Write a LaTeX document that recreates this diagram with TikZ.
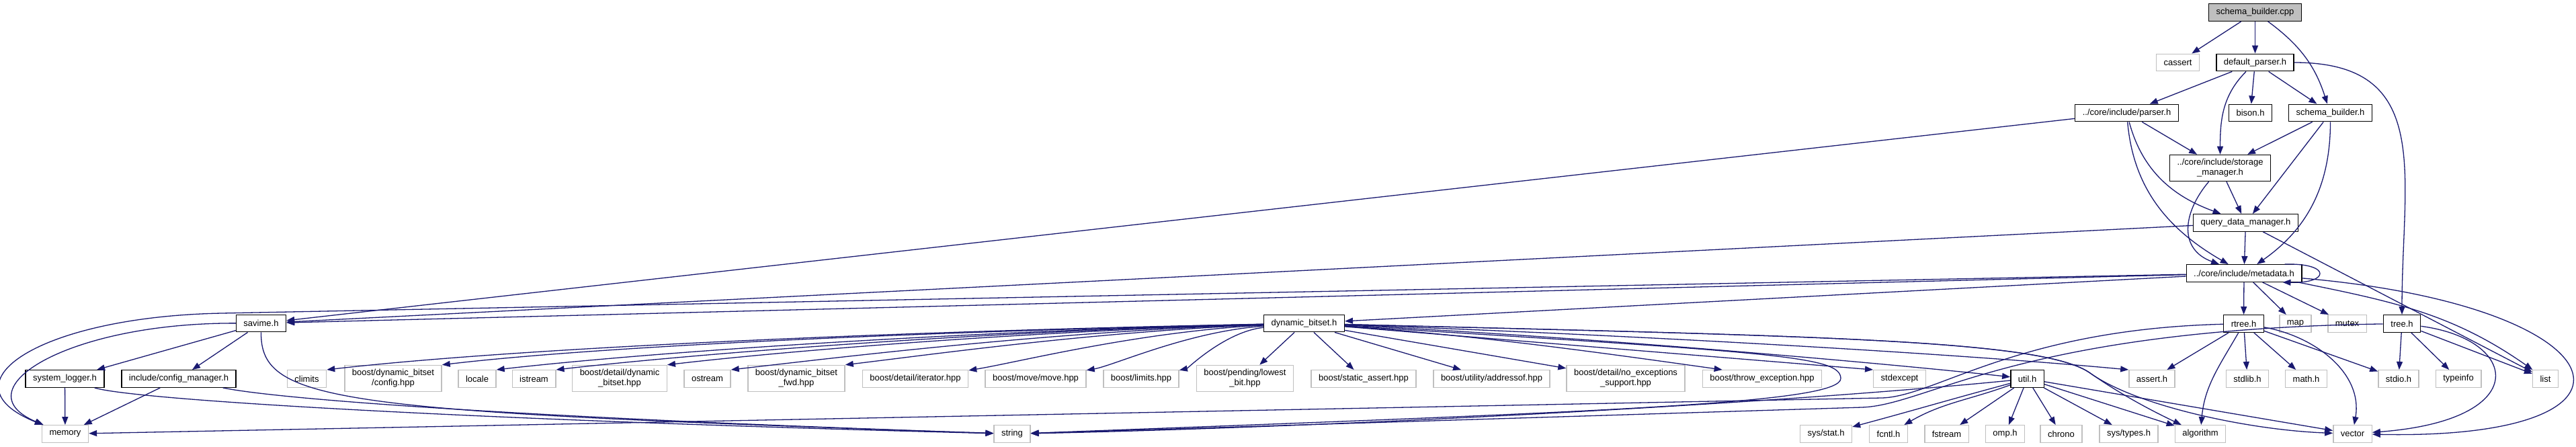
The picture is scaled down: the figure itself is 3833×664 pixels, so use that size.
\documentclass[tikz,border=0pt]{standalone}
\usepackage{fontspec}
\setmainfont{Liberation Sans}
\usetikzlibrary{arrows.meta}
\definecolor{edgeblue}{RGB}{25,25,112}
\definecolor{sysgray}{RGB}{191,191,191}
\begin{document}
\begin{tikzpicture}[x=1pt,y=1pt,
    hfile/.style={draw=black,line width=1.4pt,inner xsep=11pt,inner ysep=6pt,
      minimum height=25.5pt,align=center,font=\fontsize{13}{15}\selectfont},
    sysfile/.style={hfile,draw=sysgray},
    rootfile/.style={hfile,fill=sysgray},
    incl/.style={color=edgeblue,line width=1.3pt,-{Triangle[length=12pt,width=9pt]}}]
  \useasboundingbox[fill=white] (0,0) rectangle (3833,-664);
  \draw
    (3355.5,-18.5) node[rootfile] (sbcpp){schema\_builder.cpp}
    (3240.5,-93) node[sysfile] (cassert){cassert}
    (3355.5,-93) node[hfile] (dparser){default\_parser.h}
    (3164.5,-168) node[hfile] (parser){../core/include/parser.h}
    (3348.5,-168) node[hfile] (bison){bison.h}
    (3467.5,-168) node[hfile] (sbh){schema\_builder.h}
    (3303.5,-250) node[hfile] (storage){../core/include/storage\\\_manager.h}
    (3341.5,-331.5) node[hfile] (qdm){query\_data\_manager.h}
    (3339,-406.5) node[hfile] (meta){../core/include/metadata.h}
    (388.5,-481) node[hfile] (savime){savime.h}
    (1940.5,-481) node[hfile] (dbitset){dynamic\_bitset.h}
    (3338.5,-481.5) node[hfile] (rtree){rtree.h}
    (3415.5,-481.5) node[sysfile] (map){map}
    (3492.5,-481.5) node[sysfile] (mutex){mutex}
    (3574,-481.5) node[hfile] (treeh){tree.h}
    (96.5,-563.5) node[hfile] (syslog){system\_logger.h}
    (266,-563.5) node[hfile] (config){include/config\_manager.h}
    (456.5,-563.5) node[sysfile] (climits){climits}
    (585,-563) node[sysfile] (dbconfig){boost/dynamic\_bitset\\/config.hpp}
    (710,-563.5) node[sysfile] (locale){locale}
    (794.5,-563.5) node[sysfile] (istream){istream}
    (922,-563) node[sysfile] (dbdetail){boost/detail/dynamic\\\_bitset.hpp}
    (1052.5,-563.5) node[sysfile] (ostream){ostream}
    (1185,-563) node[sysfile] (dbfwd){boost/dynamic\_bitset\\\_fwd.hpp}
    (1362,-563.5) node[sysfile] (iterator){boost/detail/iterator.hpp}
    (1541,-563.5) node[sysfile] (move){boost/move/move.hpp}
    (1698,-563.5) node[sysfile] (limits){boost/limits.hpp}
    (1852.5,-563) node[sysfile] (lowbit){boost/pending/lowest\\\_bit.hpp}
    (2029,-563.5) node[sysfile] (sassert){boost/static\_assert.hpp}
    (2219.5,-563.5) node[sysfile] (addrof){boost/utility/addressof.hpp}
    (2419,-563) node[sysfile] (noexc){boost/detail/no\_exceptions\\\_support.hpp}
    (2622,-563.5) node[sysfile] (throwex){boost/throw\_exception.hpp}
    (2826.5,-563.5) node[sysfile] (stdexcept){stdexcept}
    (3016.5,-563.5) node[hfile] (util){util.h}
    (3202,-563.5) node[sysfile] (asserth){assert.h}
    (3344,-563.5) node[sysfile] (stdlib){stdlib.h}
    (3431.5,-563.5) node[sysfile] (math){math.h}
    (3569,-563.5) node[sysfile] (stdio){stdio.h}
    (3658,-563.5) node[sysfile] (typeinfo){typeinfo}
    (3787.5,-563.5) node[sysfile] (list){list}
    (97,-645.5) node[sysfile] (memory){memory}
    (1506,-645.5) node[sysfile] (string){string}
    (2717,-645.5) node[sysfile] (sysstat){sys/stat.h}
    (2810,-645.5) node[sysfile] (fcntl){fcntl.h}
    (2896.5,-645.5) node[sysfile] (fstream){fstream}
    (2983.5,-645.5) node[sysfile] (omp){omp.h}
    (3067,-645.5) node[sysfile] (chrono){chrono}
    (3167.5,-645.5) node[sysfile] (systypes){sys/types.h}
    (3274,-645.5) node[sysfile] (algorithm){algorithm}
    (3500.5,-645.5) node[sysfile] (vector){vector};
  \coordinate (mdbend) at (330,-466);
  \coordinate (dbturn) at (2739,-563);
  \coordinate (dbgap) at (3110,-555);
  \coordinate (rtbend) at (2800,-592);
  \coordinate (trbend) at (2770,-606);
  \begin{scope}[incl]
    \draw (sbcpp) to (cassert);
    \draw (sbcpp) to (dparser);
    \draw (sbcpp) to[bend left=18] (sbh);
    \draw (dparser) to (parser);
    \draw (dparser) to[out=-135,in=90] (storage);
    \draw (dparser) to (bison);
    \draw (dparser) to (sbh);
    \draw (dparser.east) .. controls (3622,-93) and (3574,-260) .. (treeh);
    \draw (parser) to (savime);
    \draw (parser) to (storage);
    \draw (parser) to[out=-75,in=160] (qdm);
    \draw (parser) to[out=-85,in=150] (meta);
    \draw (sbh) to (storage);
    \draw (sbh) to (qdm);
    \draw (sbh) to[out=-90,in=35] (meta);
    \draw (storage) to (qdm);
    \draw (storage) to[out=-130,in=160,looseness=1.3] (meta);
    \draw (qdm) to (meta);
    \draw (qdm) to (savime);
    \draw (qdm) to (list);
    \draw ([xshift=-26pt]meta.north east) .. controls +(70,2) and +(70,-2) .. ([xshift=-29pt]meta.south east);
    \draw (meta) to (savime);
    \draw (meta) -- (mdbend) .. controls (60,-471) and (-90,-570) .. (memory);
    \draw (meta) to (dbitset);
    \draw (meta) to (rtree);
    \draw (meta) to (map);
    \draw (meta) to (mutex);
    \draw ([xshift=-6pt]meta.south east) .. controls (3563,-449) and (3650,-467) .. (list);
    \draw (meta) .. controls (3905,-455) and (3975,-655) .. (vector);
    \draw (savime) .. controls (100,-480) and (-60,-580) .. (memory);
    \draw (savime) to (syslog);
    \draw (savime) to (config);
    \draw (savime) .. controls (388,-600) and (500,-612) .. (string);
    \draw (syslog) to (memory);
    \draw (syslog) .. controls (200,-595) and (700,-625) .. (string);
    \draw (config) to (memory);
    \draw (config) .. controls (420,-595) and (800,-622) .. (string);
    \draw (dbitset) .. controls (1323,-493) and (766,-518) .. (climits.north east);
    \draw (dbitset) .. controls (1391,-493) and (902,-514) .. (dbconfig.north east);
    \draw (dbitset) .. controls (1423,-493) and (966,-524) .. (locale.north east);
    \draw (dbitset) .. controls (1459,-493) and (1038,-526) .. (istream.north east);
    \draw (dbitset) .. controls (1525,-493) and (1170,-522) .. (dbdetail.north east);
    \draw (dbitset) .. controls (1563,-493) and (1246,-532) .. (ostream.north east);
    \draw (dbitset) .. controls (1631,-493) and (1382,-528) .. (dbfwd.north east);
    \draw (dbitset) .. controls (1695,-493) and (1510,-540) .. (iterator);
    \draw (dbitset) .. controls (1768,-493) and (1657,-544) .. (move);
    \draw (dbitset) .. controls (1824,-493) and (1767,-548) .. (limits);
    \draw (dbitset) to (lowbit);
    \draw (dbitset) to (sassert);
    \draw (dbitset) to (addrof);
    \draw (dbitset) to (noexc);
    \draw (dbitset) .. controls (2196,-499) and (2363,-522) .. ([xshift=30pt]throwex.north west);
    \draw (dbitset) to (stdexcept.north west);
    \draw (dbitset) .. controls (2350,-500) and (2800,-540) .. (util);
    \draw (dbitset) .. controls (2400,-497) and (2900,-525) .. (asserth.north west);
    \draw (dbitset) .. controls (2650,-525) and (2738,-530) .. (dbturn) .. controls (2738,-600) and (2400,-612) .. (string);
    \draw (dbitset) .. controls (2700,-500) and (3040,-505) .. (dbgap) .. controls (3160,-590) and (3210,-615) .. (algorithm);
    \draw (dbitset) .. controls (2700,-500) and (3040,-505) .. (dbgap) .. controls (3180,-605) and (3350,-640) .. (vector);
    \draw (util) to[out=195,in=15] (sysstat);
    \draw (util) to[out=200,in=30] (fcntl);
    \draw (util) to (fstream);
    \draw (util) to (omp);
    \draw (util) to (chrono);
    \draw (util) to (systypes);
    \draw (util) to (algorithm);
    \draw (util) to (vector);
    \draw (util) .. controls (2650,-600) and (2000,-635) .. (string);
    \draw (rtree) .. controls (3000,-490) and (2880,-590) .. (rtbend) -- (memory);
    \draw (rtree) to (asserth);
    \draw (rtree) to (stdlib);
    \draw (rtree) to (math);
    \draw (rtree) to (stdio);
    \draw (rtree) to[out=-10,in=80] (vector);
    \draw (rtree) to[out=-120,in=85] (algorithm);
    \draw (treeh) .. controls (3000,-490) and (2870,-603) .. (trbend) -- (string);
    \draw (treeh) to (stdio);
    \draw (treeh) to (typeinfo);
    \draw (treeh) to (list);
    \draw (treeh) .. controls (3750,-505) and (3770,-625) .. (vector);
  \end{scope}
\end{tikzpicture}
\end{document}
